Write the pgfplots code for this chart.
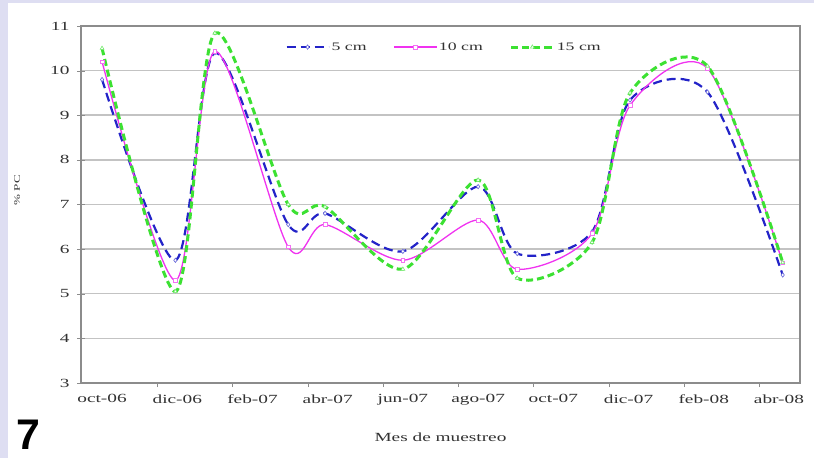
\documentclass[border=0pt]{standalone}
\usepackage{pgfplots}
\pgfplotsset{compat=1.18}
\usepackage{pgfplotstable}
\usepackage{fontspec}
\setmainfont[FakeStretch=1.55]{Liberation Serif}
\newfontfamily\arialfont{Liberation Sans}
\definecolor{cBlue}{RGB}{35,35,200}
\definecolor{cMag}{RGB}{240,50,240}
\definecolor{cGreen}{RGB}{60,225,50}
\definecolor{bgLav}{RGB}{222,222,242}
\definecolor{gridGray}{RGB}{195,195,195}
\definecolor{axGray}{RGB}{140,140,140}
\definecolor{txt}{RGB}{50,50,50}

\pgfplotstableread{
x p5 p10 p15
0     9.80 10.20 10.50
1.95  5.75  5.30  5.05
3.00 10.40 10.43 10.84
4.95  6.55  6.05  7.00
5.93  6.80  6.55  6.95
8.00  5.95  5.75  5.55
10.00 7.40  6.65  7.55
11.04 5.90  5.55  5.35
13.03 6.39  6.35  6.15
14.04 9.34  9.22  9.50
16.10 9.52 10.05 10.10
18.10 5.42  5.69  5.70
}\datatable

\begin{document}
\begin{tikzpicture}
\path[use as bounding box] (0,0) rectangle (814bp,458bp);
\fill[bgLav] (0,0) rectangle (814bp,458bp);
\fill[white] (8bp,0) rectangle (814bp,455bp);
\begin{axis}[
  at={(81bp,75bp)}, anchor=south west,
  scale only axis, width=719bp, height=357bp,
  xmin=-0.56, xmax=18.56, ymin=3, ymax=11,
  xtick={0,2,...,18},
  xticklabels={oct-06,dic-06,feb-07,abr-07,jun-07,ago-07,oct-07,dic-07,feb-08,abr-08},
  xtick style={draw=none},
  extra x ticks={1.47,3.47,5.47,7.47,9.47,11.47,13.47,15.47,17.47},
  extra x tick labels={},
  extra x tick style={xtick style={draw=axGray}, major tick length=4bp, tick align=outside},
  ytick={3,4,...,11},
  ytick style={draw=axGray},
  major tick length=8bp,
  tick align=center,
  tick pos=left,
  ymajorgrids,
  major grid style={gridGray, line width=1.5bp},
  axis line style={draw=axGray, line width=1.2bp},
  /pgf/number format/assume math mode=true,
  tick label style={font=\fontsize{12.5}{14}\selectfont, text=txt},
  xticklabel style={yshift=-4bp},
  yticklabel style={xshift=-4bp},
  xlabel={Mes de muestreo},
  xlabel style={at={(rel axis cs:0.5,-0.151)}, anchor=center, font=\fontsize{12.5}{14}\selectfont, text=txt},
  ylabel={\% PC},
  ylabel style={at={(rel axis cs:-0.089,0.54)}, anchor=center, font=\fontsize{8.5}{10}\selectfont, text=txt},
  legend style={at={(0.505,0.941)}, anchor=center, legend columns=3, draw=none, fill=white,
    font=\fontsize{11.5}{13}\selectfont, text=txt,
    /tikz/every even column/.append style={column sep=25bp}},
  legend image code/.code={\draw[mark repeat=2,mark phase=2,#1] plot coordinates {(0bp,0bp) (21bp,0bp) (42bp,0bp)};},
]
\addplot[cBlue, line width=2.2bp, dash pattern=on 9bp off 5bp, smooth, mark=diamond*, mark size=2.2pt, mark options={solid, fill=white, draw=cBlue!70, line width=0.6bp}] table[x=x,y=p5] {\datatable};
\addlegendentry{5 cm}
\addplot[cMag, line width=1.3bp, smooth, mark=square*, mark size=1.8pt, mark options={solid, fill=white, draw=cMag!70, line width=0.6bp}] table[x=x,y=p10] {\datatable};
\addlegendentry{10 cm}
\addplot[cGreen, line width=3bp, dash pattern=on 7bp off 4bp, smooth, mark=triangle*, mark size=2.2pt, mark options={solid, fill=white, draw=cGreen!70, line width=0.6bp}] table[x=x,y=p15] {\datatable};
\addlegendentry{15 cm}
\end{axis}
\node[anchor=base west, inner sep=0, font=\arialfont\bfseries\fontsize{43}{43}\selectfont] at (16bp,9bp) {7};
\end{tikzpicture}
\end{document}
